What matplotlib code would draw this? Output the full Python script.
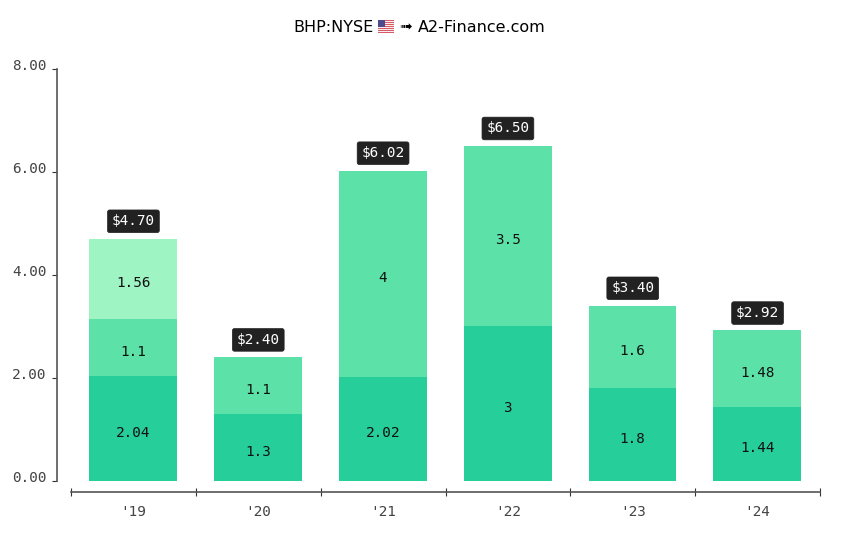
import numpy as np
import matplotlib
matplotlib.use("Agg")
import matplotlib.pyplot as plt
from matplotlib.transforms import ScaledTranslation

years = ["'19", "'20", "'21", "'22", "'23", "'24"]
seg1 = [2.04, 1.3, 2.02, 3, 1.8, 1.44]
seg2 = [1.1, 1.1, 4, 3.5, 1.6, 1.48]
seg3 = [1.56, 0, 0, 0, 0, 0]
totals = ["$4.70", "$2.40", "$6.02", "$6.50", "$3.40", "$2.92"]
yticks = [0, 2, 4, 6, 8]
colors = ["#26ce99", "#5ce2a9", "#9ff4c3"]

W, H = 850, 535
MONO = "DejaVu Sans Mono"
FS = 10.4

fig = plt.figure(figsize=(W / 100, H / 100), dpi=100)
# axes box in pixels: x 71-820, y 68-481
ax = fig.add_axes([71 / W, 1 - 481 / H, 749 / W, 412.5 / H])

x = np.arange(len(years))
bottom = np.zeros(len(years))
for seg, col in zip([seg1, seg2, seg3], colors):
    vals = np.array(seg, dtype=float)
    ax.bar(x - 0.002, vals, width=0.704, bottom=bottom, color=col, linewidth=0)
    for i, v in enumerate(seg):
        if v > 0:
            ax.annotate(str(v), (i - 0.002, bottom[i] + v / 2), xytext=(0, -3), textcoords="offset points",
                        ha="center", va="center", family=MONO, fontsize=FS, color="#111111")
    bottom += vals

for i, t in enumerate(totals):
    ax.annotate(t.replace("$", r"\$"), (i, bottom[i]), xytext=(0, 12.5), textcoords="offset points",
                ha="center", va="center", family=MONO, fontsize=FS, color="white",
                bbox=dict(boxstyle="round,pad=0.3,rounding_size=0.15", fc="#222222", ec="#222222", lw=0.5))

ax.set_xlim(-0.5, 5.5)
ax.set_ylim(0, 8)

for s in ["top", "right"]:
    ax.spines[s].set_visible(False)
ax.spines["left"].set_position(("outward", 10))
ax.spines["bottom"].set_position(("outward", 8))
ax.spines["left"].set_color("#555555")
ax.spines["bottom"].set_color("#555555")
ax.spines["left"].set_linewidth(1.2)
ax.spines["bottom"].set_linewidth(1.2)

ax.set_yticks(yticks)
ax.set_yticklabels([f"{v:.2f}" for v in yticks], family=MONO, fontsize=FS, color="#444444", va="center")
ax.tick_params(axis="y", length=3.5, color="#333333", pad=4)
# labels sit a little above their ticks in the original
shift = ScaledTranslation(0, 3 / 100, fig.dpi_scale_trans)
for lab in ax.get_yticklabels():
    lab.set_transform(lab.get_transform() + shift)
ax.set_xticks(np.arange(-0.5, 6, 1))
ax.set_xticklabels([])
ax.set_xticks(x, minor=True)
ax.set_xticklabels(years, minor=True, family=MONO, fontsize=FS, color="#444444")
ax.tick_params(axis="x", which="major", direction="inout", length=6, color="#333333")
ax.tick_params(axis="x", which="minor", length=0, pad=9)

# title pieces, flag has no font glyph so it is a small image
fig.text(293 / W, 1 - 27 / H, "BHP:NYSE", ha="left", va="center", fontsize=11.5, color="black")
fig.text(399 / W, 1 - 27 / H, "\u279f", ha="left", va="center", fontsize=11, color="black")
fig.text(418 / W, 1 - 27 / H, "A2-Finance.com", ha="left", va="center", fontsize=11.5, color="black")
flag = fig.add_axes([378 / W, 1 - 33 / H, 16 / W, 13 / H])
stripes = np.array([[0.85, 0.35, 0.4], [0.97, 0.93, 0.93]])[np.arange(13) % 2]
img = stripes[:, None, :].repeat(16, axis=1)
img[:7, :7] = [0.3, 0.3, 0.55]
flag.imshow(img, aspect="auto", interpolation="nearest")
flag.axis("off")

fig.savefig("out.png", dpi=100)
